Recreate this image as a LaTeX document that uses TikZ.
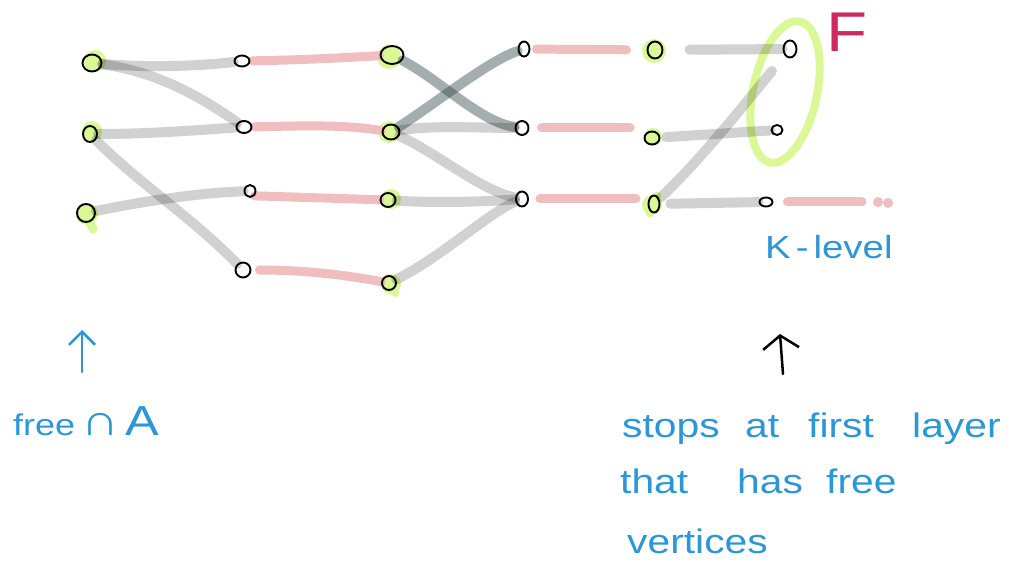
\documentclass[tikz,border=0pt]{standalone}
\usepackage{fontspec}
\usetikzlibrary{arrows.meta,shapes.geometric}
\newfontfamily\hand[FakeStretch=1.2]{Liberation Sans}
\definecolor{crossgray}{RGB}{55,75,75}
\definecolor{matchpink}{RGB}{240,190,190}
\definecolor{freegreen}{RGB}{218,248,150}
\definecolor{inkblue}{RGB}{45,150,215}
\definecolor{inkred}{RGB}{205,40,95}
\pgfdeclarelayer{back}
\pgfsetlayers{back,main}
\begin{document}
\begin{tikzpicture}[x=1pt,y=-1pt,
  vtx/.style 2 args={ellipse, draw=black, line width=1.9pt, inner sep=0pt,
    minimum width=#1, minimum height=#2},
  plain/.style={draw=black, draw opacity=0.18, line width=10pt, line cap=round},
  cross/.style={draw=crossgray, draw opacity=0.45, line width=10pt, line cap=round},
  match/.style={draw=matchpink, line width=9pt, line cap=round},
  halo/.style={fill=freegreen},
  word/.style={text=inkblue, inner sep=0pt, anchor=base west, font=\fontsize{34}{40}\hand},
  pointer/.style={line width=2.5pt, line cap=round}
]
\useasboundingbox (0,0) rectangle (1026,564);

% vertices, layer by layer
\node[vtx={19pt}{17pt}] (a1) at (92,63) {};
\node[vtx={14pt}{16pt}] (a2) at (90,134) {};
\node[vtx={18pt}{18pt}] (a3) at (86,213) {};
\node[vtx={15pt}{11pt}] (b1) at (242,61) {};
\node[vtx={15pt}{12pt}] (b2) at (244,127) {};
\node[vtx={11pt}{12pt}] (b3) at (250,191) {};
\node[vtx={15pt}{15pt}] (b4) at (243,270) {};
\node[vtx={23pt}{18pt}] (c1) at (392,55) {};
\node[vtx={17pt}{15pt}] (c2) at (391,132) {};
\node[vtx={15pt}{14pt}] (c3) at (388,200) {};
\node[vtx={14pt}{14pt}] (c4) at (389,283) {};
\node[vtx={11pt}{15pt}] (d1) at (524,49) {};
\node[vtx={13pt}{14pt}] (d2) at (522,128) {};
\node[vtx={12pt}{15pt}] (d3) at (522,199) {};
\node[vtx={15pt}{17pt}] (e1) at (655,50) {};
\node[vtx={15pt}{13pt}] (e2) at (652,138) {};
\node[vtx={11pt}{17pt}] (e3) at (654,204) {};
\node[vtx={13pt}{17pt}] (f1) at (790,49) {};
\node[vtx={11pt}{10pt}] (f2) at (777,130) {};
\node[vtx={13pt}{9pt}] (f3) at (766,202) {};

\begin{pgfonlayer}{back}
  % highlighted vertices
  \fill[halo] (95,61) circle[radius=11pt];
  \fill[halo] (92,131) circle[radius=10pt];
  \fill[halo] (87,214) circle[radius=11pt];
  \draw[freegreen, line width=9pt, line cap=round] (88,218) -- (93,229);
  \fill[halo] (389,57) circle[radius=12pt];
  \fill[halo] (389,132) circle[radius=11pt];
  \fill[halo] (391,199) circle[radius=10pt];
  \fill[halo] (391,284) circle[radius=10pt];
  \draw[freegreen, line width=8pt, line cap=round] (391,285) -- (395,293);
  \fill[halo] (654,51) circle[radius=12pt];
  \fill[halo] (653,137) circle[radius=9pt];
  \fill[halo] (652,205) circle[radius=10pt];
  \draw[freegreen, line width=9pt, line cap=round] (657,196) -- (650,213);

  % the set F
  \begin{scope}[shift={(785,92)}, rotate=-12]
    \draw[freegreen, line width=8pt] (0,0) ellipse [x radius=32pt, y radius=72pt];
  \end{scope}

  % unmatched edges
  \draw[plain] (a1) .. controls (150,68) and (200,66) .. (b1);
  \draw[plain] (a1) .. controls (160,72) and (205,100) .. (b2);
  \draw[plain] (a2) .. controls (150,134) and (200,130) .. (b2);
  \draw[plain] (a2) .. controls (135,180) and (195,220) .. (b4);
  \draw[plain] (a3) .. controls (150,200) and (200,193) .. (b3);
  \draw[cross] (c1) .. controls (440,80) and (480,122) .. (d2);
  \draw[cross] (c2) .. controls (440,100) and (490,60) .. (d1);
  \draw[plain] (c2) .. controls (430,125) and (480,128) .. (d2);
  \draw[plain] (c2) .. controls (440,155) and (480,190) .. (d3);
  \draw[plain] (c3) .. controls (430,203) and (480,202) .. (d3);
  \draw[plain] (c4) .. controls (440,258) and (490,212) .. (d3);
  \draw[plain, shorten <=26pt] (e1) -- (f1);
  \draw[plain, shorten <=2pt, shorten >=20pt] (e3) .. controls (700,160) and (740,110) .. (f1);
  \draw[plain, shorten <=6pt] (e2) -- (f2);
  \draw[plain, shorten <=10pt] (e3) -- (f3);

  % matched edges
  \draw[match, shorten <=2pt] (b1) .. controls (300,60) and (340,58) .. (c1);
  \draw[match, shorten <=2pt] (b2) .. controls (300,126) and (340,124) .. (c2);
  \draw[match] (b3.south east) .. controls (262,196) and (290,197) .. (c3);
  \draw[match, shorten <=8pt] (b4) .. controls (310,270) and (350,276) .. (c4);
  \draw[match, shorten <=6pt, shorten >=20pt] (d1) -- (e1);
  \draw[match, shorten <=12pt, shorten >=22pt] (d2) -- (d2 -| e2);
  \draw[match, shorten <=11pt, shorten >=18pt] (d3) -- (d3 -| e3);
  \coordinate (tail) at (862,202);
  \draw[match, shorten <=14pt] (f3) -- (tail);
  \fill[matchpink] (878,202) circle[radius=5pt] (888,203) circle[radius=5pt];
\end{pgfonlayer}

% labels
\node[text=inkred, inner sep=0pt, anchor=base west, font=\fontsize{56}{60}\hand] (flabel) at (826,52) {F};
\node[word, font=\fontsize{32}{38}\hand] (klevel) at (765,259) {K\hspace{5pt}-\hspace{5pt}level};

\coordinate (p1) at (82,372);
\coordinate (p1t) at (82,330);
\draw[pointer, inkblue, -{Straight Barb[length=13pt,width=26pt]}] (p1) -- (p1t);
\coordinate (p2) at (783,374);
\coordinate (p2t) at (780,334);
\draw[pointer, black, -{Straight Barb[length=13pt,width=36pt]}] (p2) -- (p2t);

\node[word, font=\fontsize{30}{36}\hand] (freeA) at (13,435) {free\hspace{6pt}{\fontsize{44}{50}\selectfont ∩}\hspace{6pt}{\fontsize{42}{50}\selectfont A}};

\node[word] (w1) at (622,437) {stops};
\node[word] (w2) at (745,437) {at};
\node[word] (w3) at (808,437) {first};
\node[word] (w4) at (912,437) {layer};
\node[word] (w5) at (620,493) {that};
\node[word] (w6) at (737,493) {has};
\node[word] (w7) at (826,493) {free};
\node[word] (w8) at (627,553) {vertices};
\end{tikzpicture}
\end{document}
